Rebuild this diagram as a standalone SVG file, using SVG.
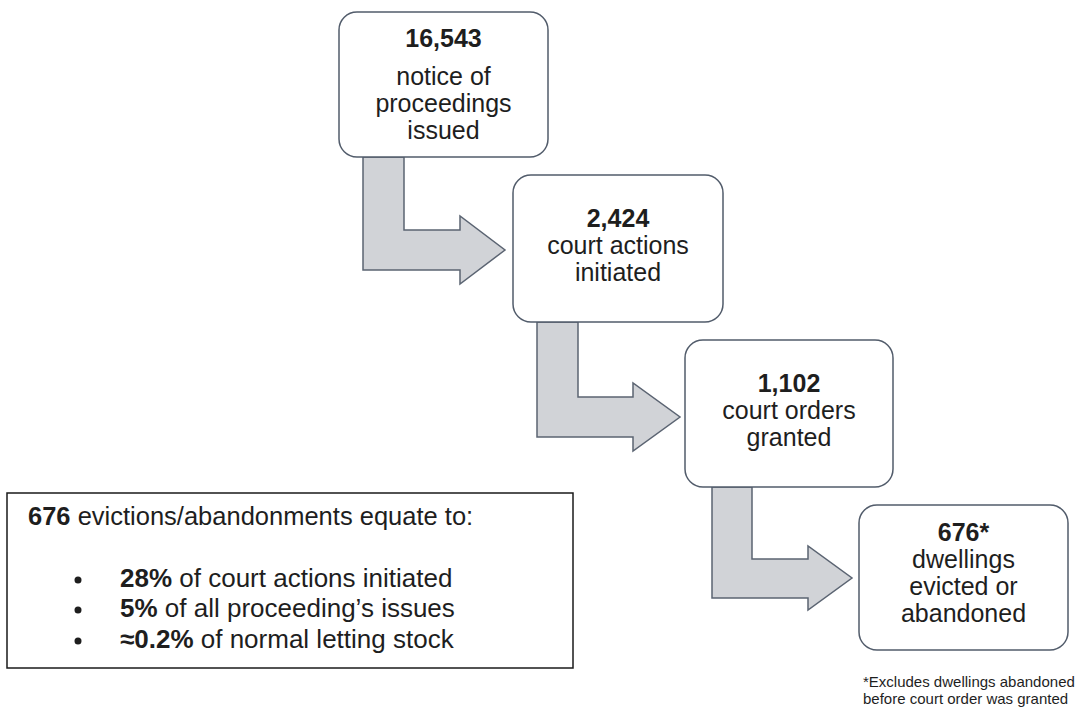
<svg xmlns="http://www.w3.org/2000/svg" width="1080" height="708" viewBox="0 0 1080 708">
<style>
.box{fill:#fff;stroke:#525c6b;stroke-width:1.5}
.arr{fill:#d1d3d7;stroke:#5b6472;stroke-width:1.5;stroke-linejoin:miter}
text{font-family:"Liberation Sans",Arial,sans-serif;fill:#1e1e1e}
.t{font-size:25px;text-anchor:middle}
.b{font-weight:bold}
.h{font-size:25.5px}
.l{font-size:26px}
.f{font-size:15px}
</style>
<rect width="1080" height="708" fill="#fff"/>
<g id="connectors">
<path class="arr" d="M363,157 L404,157 L404,230 L460,230 L460,216 L505,250 L460,284 L460,270 L363,270 Z"/>
<path class="arr" d="M537,322 L578,322 L578,397 L633,397 L633,383 L680,417 L633,451 L633,437 L537,437 Z"/>
<path class="arr" d="M712,487 L752,487 L752,559 L808,559 L808,546 L852,578 L808,610 L808,598 L712,598 Z"/>
</g>
<g id="node1">
<rect class="box" x="339" y="12" width="209" height="145" rx="18"/>
<text class="t b" x="443.5" y="47">16,543</text>
<text class="t" x="443.5" y="85">notice of</text>
<text class="t" x="443.5" y="112">proceedings</text>
<text class="t" x="443.5" y="139">issued</text>
</g>
<g id="node2">
<rect class="box" x="513" y="175" width="210" height="147" rx="18"/>
<text class="t b" x="618" y="227">2,424</text>
<text class="t" x="618" y="254">court actions</text>
<text class="t" x="618" y="281">initiated</text>
</g>
<g id="node3">
<rect class="box" x="685" y="340" width="208" height="147" rx="18"/>
<text class="t b" x="789" y="392">1,102</text>
<text class="t" x="789" y="419">court orders</text>
<text class="t" x="789" y="446">granted</text>
</g>
<g id="node4">
<rect class="box" x="859" y="505" width="209" height="145" rx="18"/>
<text class="t b" x="963.5" y="541">676*</text>
<text class="t" x="963.5" y="568">dwellings</text>
<text class="t" x="963.5" y="595">evicted or</text>
<text class="t" x="963.5" y="622">abandoned</text>
</g>
<g id="summary">
<rect x="7" y="493" width="566" height="175" fill="#fff" stroke="#1a1a1a" stroke-width="1.5"/>
<text class="h" x="28" y="525"><tspan class="b">676</tspan> evictions/abandonments equate to:</text>
<circle cx="78" cy="580" r="3.5" fill="#1e1e1e"/>
<circle cx="78" cy="610" r="3.5" fill="#1e1e1e"/>
<circle cx="78" cy="641" r="3.5" fill="#1e1e1e"/>
<text class="l" x="120" y="587"><tspan class="b">28%</tspan> of court actions initiated</text>
<text class="l" x="120" y="617"><tspan class="b">5%</tspan> of all proceeding’s issues</text>
<text class="l" x="120" y="648"><tspan class="b">≈0.2%</tspan> of normal letting stock</text>
</g>
<g id="footnote">
<text class="f" x="863" y="687">*Excludes dwellings abandoned</text>
<text class="f" x="863" y="704">before court order was granted</text>
</g>
</svg>
